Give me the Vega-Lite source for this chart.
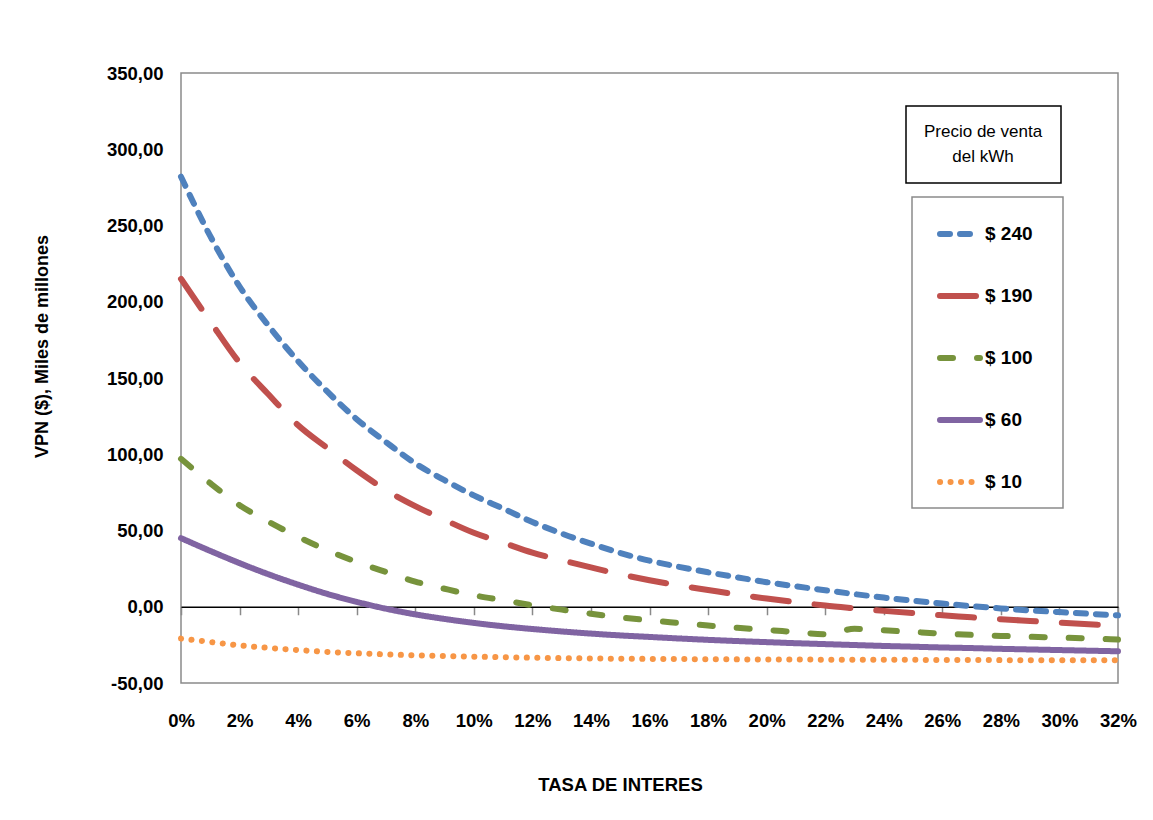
{
  "$schema": "https://vega.github.io/schema/vega-lite/v6.json",
  "autosize": "none",
  "width": 937,
  "height": 610,
  "padding": {"left": 181, "top": 73, "right": 35, "bottom": 137},
  "background": "white",
  "config": {
    "locale": {"number": {"decimal": ",", "thousands": ".", "grouping": [3], "currency": ["$", ""], "minus": "-"}},
    "view": {"stroke": "#8a8a8a", "strokeWidth": 1.5},
    "axis": {"grid": false}
  },
  "data": {
    "values": [
      {"tasa": 0.00, "$ 240": 282, "$ 190": 215, "$ 100": 97, "$ 60": 45, "$ 10": -20.9},
      {"tasa": 0.01, "$ 240": 243, "$ 190": 187, "$ 100": 81, "$ 60": 36.6, "$ 10": -23.1},
      {"tasa": 0.02, "$ 240": 210, "$ 190": 160, "$ 100": 66.6, "$ 60": 28.6, "$ 10": -25.3},
      {"tasa": 0.03, "$ 240": 184, "$ 190": 139, "$ 100": 55.6, "$ 60": 21.2, "$ 10": -27},
      {"tasa": 0.04, "$ 240": 161, "$ 190": 119, "$ 100": 45.8, "$ 60": 14.5, "$ 10": -28.4},
      {"tasa": 0.05, "$ 240": 141, "$ 190": 104, "$ 100": 37, "$ 60": 8.4, "$ 10": -29.6},
      {"tasa": 0.06, "$ 240": 123, "$ 190": 89.5, "$ 100": 29.4, "$ 60": 3.2, "$ 10": -30.5},
      {"tasa": 0.07, "$ 240": 108, "$ 190": 76.5, "$ 100": 22.8, "$ 60": -1.3, "$ 10": -31.2},
      {"tasa": 0.08, "$ 240": 94, "$ 190": 66, "$ 100": 16.5, "$ 60": -5, "$ 10": -31.8},
      {"tasa": 0.09, "$ 240": 83, "$ 190": 57, "$ 100": 11.8, "$ 60": -8, "$ 10": -32.3},
      {"tasa": 0.10, "$ 240": 73, "$ 190": 48.5, "$ 100": 7.5, "$ 60": -10.6, "$ 10": -32.7},
      {"tasa": 0.11, "$ 240": 64.4, "$ 190": 42, "$ 100": 4.3, "$ 60": -12.8, "$ 10": -33.1},
      {"tasa": 0.12, "$ 240": 55.6, "$ 190": 35.5, "$ 100": 1, "$ 60": -14.6, "$ 10": -33.4},
      {"tasa": 0.13, "$ 240": 48, "$ 190": 30.5, "$ 100": -1.9, "$ 60": -16.2, "$ 10": -33.7},
      {"tasa": 0.14, "$ 240": 41.4, "$ 190": 25.8, "$ 100": -4.6, "$ 60": -17.6, "$ 10": -33.9},
      {"tasa": 0.15, "$ 240": 35.3, "$ 190": 21.3, "$ 100": -7, "$ 60": -18.8, "$ 10": -34.1},
      {"tasa": 0.16, "$ 240": 30.2, "$ 190": 17.4, "$ 100": -8.9, "$ 60": -19.8, "$ 10": -34.2},
      {"tasa": 0.17, "$ 240": 26.2, "$ 190": 14, "$ 100": -10.6, "$ 60": -20.8, "$ 10": -34.3},
      {"tasa": 0.18, "$ 240": 22.6, "$ 190": 11, "$ 100": -12.3, "$ 60": -21.7, "$ 10": -34.4},
      {"tasa": 0.19, "$ 240": 19.3, "$ 190": 8, "$ 100": -13.8, "$ 60": -22.5, "$ 10": -34.5},
      {"tasa": 0.20, "$ 240": 16.1, "$ 190": 5.4, "$ 100": -15.2, "$ 60": -23.2, "$ 10": -34.6},
      {"tasa": 0.21, "$ 240": 13.4, "$ 190": 3, "$ 100": -16.6, "$ 60": -23.9, "$ 10": -34.6},
      {"tasa": 0.22, "$ 240": 10.8, "$ 190": 0.8, "$ 100": -18, "$ 60": -24.5, "$ 10": -34.7},
      {"tasa": 0.23, "$ 240": 8.3, "$ 190": -1, "$ 100": -14.5, "$ 60": -25.1, "$ 10": -34.7},
      {"tasa": 0.24, "$ 240": 6, "$ 190": -2.7, "$ 100": -15.4, "$ 60": -25.7, "$ 10": -34.8},
      {"tasa": 0.25, "$ 240": 4, "$ 190": -4.2, "$ 100": -16.5, "$ 60": -26.2, "$ 10": -34.8},
      {"tasa": 0.26, "$ 240": 2.1, "$ 190": -5.6, "$ 100": -17.6, "$ 60": -26.7, "$ 10": -34.9},
      {"tasa": 0.27, "$ 240": 0.4, "$ 190": -6.9, "$ 100": -18.4, "$ 60": -27.1, "$ 10": -34.9},
      {"tasa": 0.28, "$ 240": -1.1, "$ 190": -8.2, "$ 100": -19.1, "$ 60": -27.6, "$ 10": -35},
      {"tasa": 0.29, "$ 240": -2.4, "$ 190": -9.3, "$ 100": -19.7, "$ 60": -28, "$ 10": -35},
      {"tasa": 0.30, "$ 240": -3.5, "$ 190": -10.4, "$ 100": -20.2, "$ 60": -28.4, "$ 10": -35},
      {"tasa": 0.31, "$ 240": -4.6, "$ 190": -11.5, "$ 100": -20.8, "$ 60": -28.8, "$ 10": -35.1},
      {"tasa": 0.32, "$ 240": -5.6, "$ 190": -12.6, "$ 100": -21.5, "$ 60": -29.2, "$ 10": -35.1}
    ]
  },
  "transform": [
    {"fold": ["$ 240", "$ 190", "$ 100", "$ 60", "$ 10"], "as": ["precio", "vpn"]}
  ],
  "mark": {"type": "line", "interpolate": "monotone", "strokeWidth": 6, "strokeCap": "round", "clip": false},
  "encoding": {
    "x": {
      "field": "tasa",
      "type": "quantitative",
      "scale": {"domain": [0, 0.32], "nice": false},
      "axis": {
        "orient": "bottom",
        "offset": -76.25,
        "values": [0, 0.02, 0.04, 0.06, 0.08, 0.1, 0.12, 0.14, 0.16, 0.18, 0.2, 0.22, 0.24, 0.26, 0.28, 0.3, 0.32],
        "format": ".0%",
        "domain": true,
        "domainColor": "#000000",
        "domainWidth": 1.5,
        "ticks": true,
        "tickColor": "#8a8a8a",
        "tickSize": 8,
        "tickWidth": 1.5,
        "labelPadding": 97,
        "labelFont": "'Liberation Sans', Arial, sans-serif",
        "labelFontSize": 18.5,
        "labelFontWeight": "bold",
        "labelColor": "#000000",
        "labelFlush": false,
        "labelOverlap": false,
        "title": "TASA DE INTERES",
        "titleFont": "'Liberation Sans', Arial, sans-serif",
        "titleFontSize": 18.5,
        "titleFontWeight": "bold",
        "titleColor": "#000000",
        "titleX": 439,
        "titleY": 178,
        "titleBaseline": "middle",
        "titleAlign": "center"
      }
    },
    "y": {
      "field": "vpn",
      "type": "quantitative",
      "scale": {"domain": [-50, 350], "nice": false},
      "axis": {
        "values": [-50, 0, 50, 100, 150, 200, 250, 300, 350],
        "format": ".2f",
        "domain": false,
        "ticks": false,
        "labelPadding": 18,
        "labelFont": "'Liberation Sans', Arial, sans-serif",
        "labelFontSize": 18.5,
        "labelFontWeight": "bold",
        "labelColor": "#000000",
        "labelFlush": false,
        "labelOverlap": false,
        "title": "VPN ($), Miles de millones",
        "titleFont": "'Liberation Sans', Arial, sans-serif",
        "titleFontSize": 18,
        "titleFontWeight": "bold",
        "titleColor": "#000000",
        "titleX": -138.5,
        "titleY": 273,
        "titleAngle": -90,
        "titleAlign": "center",
        "titleBaseline": "middle"
      }
    },
    "color": {
      "field": "precio",
      "type": "nominal",
      "scale": {
        "domain": ["$ 240", "$ 190", "$ 100", "$ 60", "$ 10"],
        "range": ["#4F81BD", "#C0504D", "#77933C", "#8064A2", "#F79646"]
      },
      "legend": {
        "orient": "none",
        "legendX": 731,
        "legendY": 124,
        "title": null,
        "padding": 14,
        "symbolOffset": 11,
        "strokeColor": "#8a8a8a",
        "fillColor": "white",
        "symbolType": "stroke",
        "symbolSize": 1600,
        "symbolStrokeWidth": 6,
        "rowPadding": 27,
        "labelOffset": 2,
        "labelExpr": "datum.label + '\u00a0\u00a0\u00a0\u200b'",
        "labelFont": "'Liberation Sans', Arial, sans-serif",
        "labelFontSize": 19,
        "labelFontWeight": "bold",
        "labelColor": "#000000",
        "encode": {
          "symbols": {"update": {"strokeCap": {"value": "round"}}},
          "legend": {"update": {"strokeWidth": {"value": 1.5}}}
        }
      }
    },
    "strokeDash": {
      "field": "precio",
      "type": "nominal",
      "scale": {
        "domain": ["$ 240", "$ 190", "$ 100", "$ 60", "$ 10"],
        "range": [[10, 10], [36, 26], [13, 24], [1, 0], [0.1, 10.4]]
      },
      "legend": null
    },
    "opacity": {
      "datum": "kWh",
      "type": "nominal",
      "scale": {"range": [1]},
      "legend": {
        "orient": "none",
        "legendX": 725,
        "legendY": 33,
        "values": [],
        "title": ["Precio de venta", "\u200b\u00a0\u00a0\u00a0\u00a0\u00a0\u00a0del kWh"],
        "titleFont": "'Liberation Sans', Arial, sans-serif",
        "titleFontSize": 17,
        "titleFontWeight": "normal",
        "titleColor": "#000000",
        "titleLineHeight": 25,
        "titleAlign": "left",
        "titleAnchor": "start",
        "titlePadding": 4,
        "padding": 18,
        "strokeColor": "#000000",
        "fillColor": "white",
        "encode": {
          "legend": {"update": {"strokeWidth": {"value": 1.5}}}
        }
      }
    }
  }
}
